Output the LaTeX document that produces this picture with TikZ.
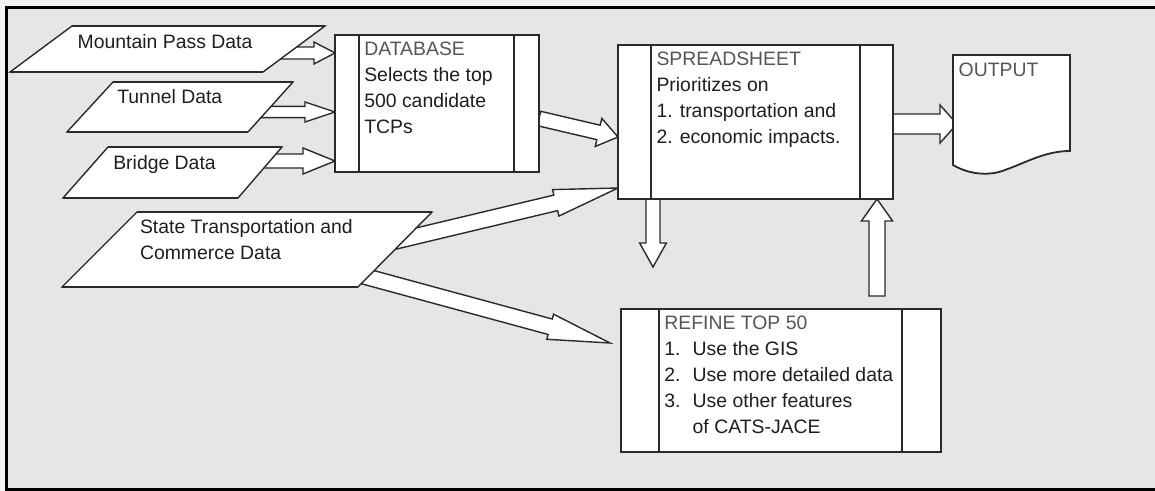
\documentclass[tikz,border=0pt]{standalone}
\usepackage{fontspec}
\setmainfont{Liberation Sans}
\usetikzlibrary{calc}
\pgfdeclarelayer{bg}
\pgfdeclarelayer{arr}
\pgfsetlayers{bg,arr,main}
\definecolor{panel}{HTML}{E6E6E6}
\definecolor{outer}{HTML}{F4F4F4}
\definecolor{ink}{HTML}{1E1E1E}
\definecolor{hdr}{HTML}{555555}
\definecolor{edge}{HTML}{2A2A2A}
\tikzset{
  box/.style={draw=edge, line width=1pt, fill=white, anchor=north west, inner sep=0pt, outer sep=0pt},
  colline/.style={draw=edge, line width=1pt},
  para/.style={draw=edge, line width=0.7pt, fill=white, line join=miter},
  paraedge/.style={draw=edge, line width=1.3pt},
  txt/.style={anchor=north west, inner sep=0pt, outer sep=0pt, align=left, text=ink, font=\fontsize{9.7}{13}\selectfont},
  barrow/.style={draw=edge, line width=0.7pt, fill=white, line join=miter},
  frame/.style={draw=black, line width=1.4pt},
}
% #1 tail, #2 tip, #3 shaft half width, #4 head half width, #5 head length
\newcommand\blockarrow[5]{%
  \filldraw[barrow]
    ($(#1)!#3!90:(#2)$)
    -- ($(#2)!#5!(#1)!#3!-90:(#1)$)
    -- ($(#2)!#5!(#1)!#4!-90:(#1)$)
    -- (#2)
    -- ($(#2)!#5!(#1)!#4!90:(#1)$)
    -- ($(#2)!#5!(#1)!#3!90:(#1)$)
    -- ($(#1)!#3!-90:(#2)$)
    -- cycle;}
\begin{document}
\begin{tikzpicture}[x=0.5pt, y=-0.5pt]
\useasboundingbox (0,0) rectangle (1155,491);
\begin{pgfonlayer}{bg}
  \fill[outer] (0,0) rectangle (1155,491);
  \fill[panel] (6,7) rectangle (1155,489);
  \draw[frame] (1160,7.5) -- (6.5,7.5) -- (6.5,489.8) -- (1160,489.8);
\end{pgfonlayer}

% ---- data parallelograms ----
\draw[para] (72,26) -- (325,26) -- (263,72) -- (10,72) -- cycle;
\draw[paraedge] (72,26) -- (325,26) (10,72) -- (263,72);
\node[txt] (mp) at (77.7,34.3) {Mountain Pass Data};

\draw[para] (113,82) -- (293,82) -- (248,132) -- (67,132) -- cycle;
\draw[paraedge] (113,82) -- (293,82) (67,132) -- (248,132);
\node[txt] (tun) at (117.3,89) {Tunnel Data};

\draw[para] (108,147) -- (282,147) -- (238,198) -- (63,198) -- cycle;
\draw[paraedge] (108,147) -- (282,147) (63,198) -- (238,198);
\node[txt] (bri) at (113.3,155) {Bridge Data};

\draw[para] (137,212) -- (432,212) -- (358,287) -- (62,287) -- cycle;
\draw[paraedge] (137,212) -- (432,212) (62,287) -- (358,287);
\node[txt] (st) at (140,219) {State Transportation and\\Commerce Data};

% ---- process boxes ----
\node[box, minimum width=102pt, minimum height=68.5pt] (db) at (335,35) {};
\draw[colline] ([xshift=12pt]db.north west) -- ([xshift=12pt]db.south west);
\draw[colline] ([xshift=-12.5pt]db.north east) -- ([xshift=-12.5pt]db.south east);
\node[txt] (dbt) at (364.3,41.7) {{\color{hdr}DATABASE}\\Selects the top\\500 candidate\\TCPs};

\node[box, minimum width=137.5pt, minimum height=77pt] (ss) at (618,45) {};
\draw[colline] ([xshift=16.5pt]ss.north west) -- ([xshift=16.5pt]ss.south west);
\draw[colline] ([xshift=-16.5pt]ss.north east) -- ([xshift=-16.5pt]ss.south east);
\node[txt] (sst) at (656.5,52) {{\color{hdr}SPREADSHEET}\\Prioritizes on\\1. transportation and\\2. economic impacts.};

\node[box, minimum width=160pt, minimum height=71.5pt] (ref) at (621,309) {};
\draw[colline] ([xshift=19pt]ref.north west) -- ([xshift=19pt]ref.south west);
\draw[colline] ([xshift=-19.5pt]ref.north east) -- ([xshift=-19.5pt]ref.south east);
\node[txt] (reft) at (664.3,316) {{\color{hdr}REFINE TOP 50}\\
  \makebox[14.2pt][l]{1.}Use the GIS\\
  \makebox[14.2pt][l]{2.}Use more detailed data\\
  \makebox[14.2pt][l]{3.}Use other features\\
  \hspace*{14.2pt}of CATS-JACE};

% ---- output document ----
\node[anchor=north west, inner sep=0pt, outer sep=0pt, minimum width=58.5pt, minimum height=55pt] (out) at (953,55) {};
\filldraw[para, line width=0.9pt] (out.north west) -- (out.north east) -- (1070,151)
  .. controls (1045,151) and (1025,163) .. (1005,170)
  .. controls (990,176) and (970,175) .. (953,165) -- cycle;
\node[txt] (outt) at (958.7,62.7) {{\color{hdr}OUTPUT}};

% ---- free ends of connectors ----
\coordinate (mpa) at (270,53);
\coordinate (tuna) at (250,112);
\coordinate (bria) at (250,161);
\coordinate (sta) at (379,245);
\coordinate (stb) at (345,271);
\coordinate (dnend) at (653,267);
\coordinate (upstart) at (877,296);

% ---- block arrows ----
\begin{pgfonlayer}{arr}
  \blockarrow{mpa}{db.west |- mpa}{3pt}{5.5pt}{10.5pt}
  \blockarrow{tuna}{db.west |- tuna}{2.8pt}{5pt}{15pt}
  \blockarrow{bria}{db.west |- bria}{3.5pt}{6.5pt}{16pt}
  \blockarrow{[yshift=-7.5pt]db.east}{[yshift=-7.5pt]ss.west}{3.7pt}{7.2pt}{10pt}
  \blockarrow{[yshift=-1pt]ss.east}{[xshift=2pt,yshift=-1pt]out.west |- ss.east}{5pt}{9.5pt}{8.5pt}
  \blockarrow{sta}{[yshift=5.5pt]ss.south west}{4pt}{6.8pt}{32pt}
  \blockarrow{stb}{[xshift=-5.5pt,yshift=18.75pt]ref.west}{4pt}{6.5pt}{31pt}
  \blockarrow{dnend |- ss.south}{dnend}{3.5pt}{6.7pt}{12pt}
  \blockarrow{upstart}{upstart |- ss.south}{4pt}{7.8pt}{11pt}
\end{pgfonlayer}
\end{tikzpicture}
\end{document}
